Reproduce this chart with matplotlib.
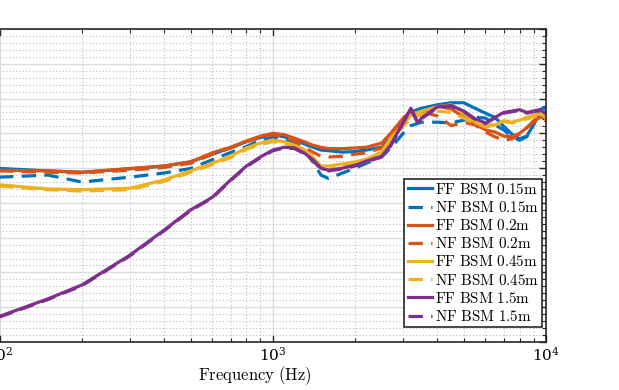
import matplotlib
matplotlib.use("Agg")
import matplotlib.pyplot as plt
from matplotlib.ticker import LogLocator, MultipleLocator, NullFormatter

plt.rcParams['mathtext.fontset'] = 'cm'
plt.rcParams['font.family'] = ['DejaVu Serif']

# ---------------- data ----------------
freq_hz = [75, 100, 150, 200, 300, 400, 500, 600, 700, 800, 900, 1000, 1100, 1200,
           1300, 1400, 1500, 1600, 1800, 2000, 2200, 2500, 2700, 3000, 3200, 3500,
           4000, 4500, 5000, 5500, 6000, 6500, 7000, 7500, 8000, 8500, 9000, 9500, 10000]

ff_bsm_015 = [-15.0, -15.05, -15.4, -15.6, -15.1, -14.7, -14.1, -13.0, -12.1, -11.2, -10.6,
              -10.2, -10.5, -11.0, -11.5, -12.0, -12.4, -12.5, -12.7, -12.6, -12.4, -12.0,
              -10.7, -8.4, -6.9, -6.4, -5.9, -5.6, -5.6, -6.4, -7.1, -7.7, -9.0, -10.1,
              -10.8, -10.4, -8.8, -6.6, -6.2]
nf_bsm_015 = [-16.3, -16.3, -16.0, -17.0, -16.3, -15.7, -15.05, -13.8, -12.75, -11.9, -11.0,
              -10.5, -10.9, -11.4, -12.4, -14.1, -16.0, -16.5, -15.7, -15.0, -14.3, -13.4,
              -12.1, -10.0, -8.9, -8.4, -8.4, -8.5, -8.1, -7.7, -7.8, -8.8, -9.5, -10.5,
              -11.0, -10.5, -8.8, -6.9, -6.6]
ff_bsm_02 = [-15.3, -15.3, -15.4, -15.6, -15.05, -14.7, -14.1, -12.8, -12.0, -11.1, -10.4,
             -10.0, -10.2, -10.7, -11.2, -11.7, -12.0, -12.2, -12.2, -12.1, -12.0, -11.4,
             -10.0, -7.8, -6.9, -7.1, -6.1, -6.5, -7.7, -8.7, -9.5, -9.8, -10.4, -10.5,
             -10.0, -9.2, -8.2, -7.7, -7.7]
nf_bsm_02 = [-15.4, -15.4, -15.6, -15.7, -15.3, -14.9, -14.3, -13.0, -12.1, -11.2, -10.6,
             -10.2, -10.5, -11.1, -12.0, -12.7, -13.3, -13.4, -13.3, -13.0, -12.8, -12.1,
             -10.7, -8.1, -7.1, -6.9, -7.5, -8.9, -8.4, -8.8, -9.8, -10.5, -11.0, -10.8,
             -10.1, -9.2, -8.4, -7.8, -8.2]
ff_bsm_045 = [-17.4, -17.4, -18.0, -18.1, -17.9, -16.7, -15.4, -14.3, -13.3, -12.1, -11.4,
              -11.0, -11.2, -11.7, -12.3, -13.4, -14.7, -14.7, -14.4, -14.1, -13.7, -12.7,
              -10.7, -8.7, -7.4, -6.8, -6.2, -5.9, -7.1, -8.4, -9.1, -8.8, -8.2, -8.4,
              -8.1, -7.7, -7.4, -7.2, -7.7]
nf_bsm_045 = [-17.6, -17.6, -18.1, -18.3, -18.1, -16.9, -15.6, -14.5, -13.5, -12.3, -11.6,
              -11.2, -11.4, -11.9, -12.6, -13.9, -15.2, -15.2, -14.8, -14.4, -14.0, -13.0,
              -11.2, -9.0, -7.8, -7.3, -6.8, -7.0, -7.8, -8.6, -9.0, -8.6, -8.3, -8.5,
              -8.3, -7.9, -7.6, -7.5, -7.9]

freq_hz_15 = [75, 100, 150, 200, 300, 400, 500, 600, 700, 800, 900, 1000, 1100, 1200,
              1300, 1400, 1500, 1600, 1800, 2000, 2200, 2500, 2700, 3000, 3200, 3400, 3500,
              4000, 4500, 5000, 5500, 6000, 6500, 7000, 7500, 8000, 8500, 9000, 9500, 10000]
ff_bsm_15 = [-38.0, -36.3, -33.8, -31.8, -27.5, -23.9, -21.0, -19.2, -16.7, -14.7, -13.4,
             -12.4, -12.0, -12.1, -12.8, -13.8, -15.0, -15.3, -15.0, -14.6, -14.0, -13.3,
             -11.7, -8.4, -6.4, -8.5, -7.8, -6.2, -6.0, -6.8, -7.9, -8.5, -7.7, -7.0,
             -6.8, -6.6, -7.0, -6.8, -6.6, -7.2]
nf_bsm_15 = [-38.1, -36.4, -33.9, -31.9, -27.6, -24.0, -21.1, -19.3, -16.8, -14.8, -13.5,
             -12.5, -12.1, -12.2, -12.9, -13.9, -15.1, -15.4, -15.1, -14.7, -14.1, -13.4,
             -11.8, -8.5, -6.5, -8.6, -7.9, -6.3, -6.1, -6.9, -8.0, -8.6, -7.8, -7.1,
             -6.9, -6.7, -7.1, -6.9, -6.7, -7.3]

labels = ['FF BSM 0.15m', 'NF BSM 0.15m', 'FF BSM 0.2m', 'NF BSM 0.2m',
          'FF BSM 0.45m', 'NF BSM 0.45m', 'FF BSM 1.5m', 'NF BSM 1.5m']

# ---------------- figure ----------------
fig = plt.figure(figsize=(6.19, 3.90), dpi=100)
ax = fig.add_axes([-36 / 619, 48 / 390, 582 / 619, 313 / 390])

c_blue, c_orange, c_yellow, c_purple = '#0072BD', '#D95319', '#EDB120', '#7E2F8E'
lw = 2.3
dash = (4.5, 2.6)

series = [
    (freq_hz, ff_bsm_015, c_blue, '-'),
    (freq_hz, nf_bsm_015, c_blue, '--'),
    (freq_hz, ff_bsm_02, c_orange, '-'),
    (freq_hz, nf_bsm_02, c_orange, '--'),
    (freq_hz, ff_bsm_045, c_yellow, '-'),
    (freq_hz, nf_bsm_045, c_yellow, '--'),
    (freq_hz_15, ff_bsm_15, c_purple, '-'),
    (freq_hz_15, nf_bsm_15, c_purple, '--'),
]
handles = []
for (f, v, c, ls), lab in zip(series, labels):
    kw = dict(color=c, lw=lw, label=r'$\mathrm{' + lab.replace(' ', r'\ ') + '}$')
    if ls == '--':
        kw['dashes'] = dash
    h, = ax.plot(f, v, **kw)
    handles.append(h)

ax.set_xscale('log')
ax.set_xlim(74, 10000)
ax.set_ylim(-40, 5)
ax.yaxis.set_major_locator(MultipleLocator(5))
ax.yaxis.set_minor_locator(MultipleLocator(1))
ax.xaxis.set_major_locator(LogLocator(base=10))
ax.xaxis.set_minor_locator(LogLocator(base=10, subs=range(2, 10)))
ax.xaxis.set_minor_formatter(NullFormatter())

ax.grid(True, which='major', color='#dcdcdc', lw=1.0, ls='-')
ax.grid(True, which='minor', color='#bdbdbd', lw=0.8, ls=(0, (1, 2)))
ax.set_axisbelow(True)

for s in ax.spines.values():
    s.set_color('#262626')
    s.set_linewidth(1.2)
ax.tick_params(which='both', direction='in', top=True, right=True, color='#262626',
               labelsize=11, pad=3)
ax.tick_params(which='major', length=5, width=1.0)
ax.tick_params(which='minor', length=3, width=0.8)

ax.set_xlabel(r'$\mathrm{Frequency\ (Hz)}$', fontsize=12, labelpad=0)

leg = ax.legend(handles=handles, loc='lower right', bbox_to_anchor=(1.0 - 4 / 582, 15 / 313),
                fontsize=10.9, frameon=True, fancybox=False, framealpha=1,
                edgecolor='#262626', handlelength=1.6, handletextpad=0.2,
                labelspacing=0.21, borderpad=0.2, borderaxespad=0)
leg.get_frame().set_linewidth(1.2)

fig.savefig('out.png', dpi=100)
